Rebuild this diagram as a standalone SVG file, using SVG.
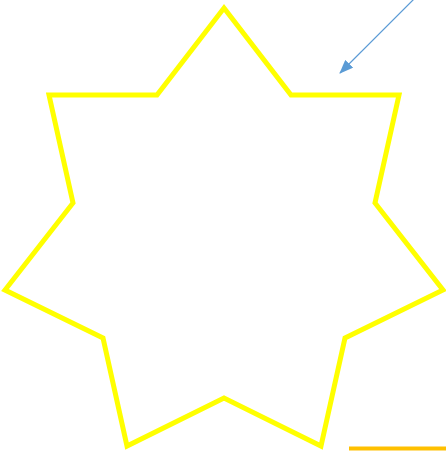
<svg xmlns="http://www.w3.org/2000/svg" width="446" height="451" viewBox="0 0 446 451">
<defs>
<marker id="ah" markerWidth="14" markerHeight="11" refX="13" refY="5.5" orient="auto" markerUnits="userSpaceOnUse">
<path d="M0,0 L14,5.5 L0,11 z" fill="#5B9BD5"/>
</marker>
<style>
.star{fill:none;stroke:#FFFF00;stroke-width:5;stroke-linejoin:miter}
.conn{stroke:#5B9BD5;stroke-width:1.2;fill:none}
</style>
</defs>
<g id="star">
<polygon class="star" points="224,8 291,95 399,95 375,203 443,290 345,338 321,446 224,398 127,446 103,338 5,290 73,203 49,95 157,95"/>
</g>
<g id="connectors">
<line class="conn" x1="414" y1="-1" x2="340" y2="73" marker-end="url(#ah)"/>
</g>
<g id="bar">
<line x1="349" y1="448.5" x2="446" y2="448.5" stroke="#FFC000" stroke-width="4"/>
</g>
</svg>
